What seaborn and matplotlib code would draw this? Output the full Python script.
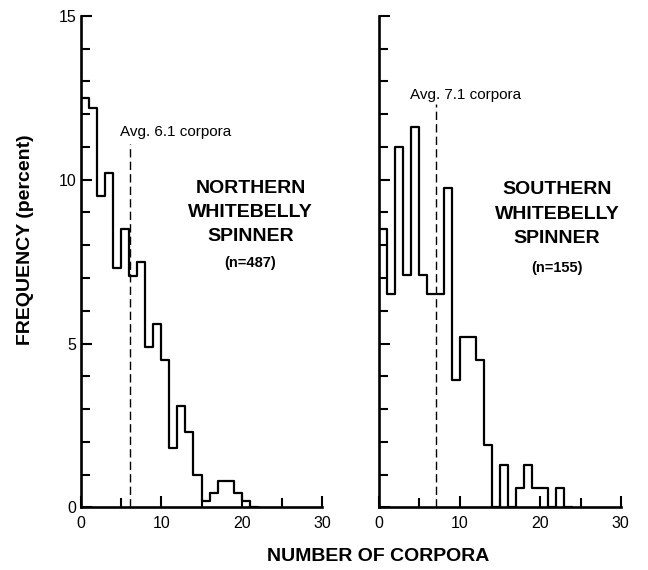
import numpy as np
import pandas as pd
import matplotlib
matplotlib.use("Agg")
import matplotlib.pyplot as plt
from matplotlib.ticker import MultipleLocator
import seaborn as sns

# Percent of animals per number-of-corpora bin (bins are [k, k+1))
north_corpora = list(range(0, 21))
north_pct = [12.5, 12.2, 9.5, 10.2, 7.3, 8.5, 7.05, 7.5, 4.9, 5.6, 4.5,
             1.8, 3.1, 2.3, 1.0, 0.2, 0.45, 0.8, 0.8, 0.45, 0.2]

south_corpora = list(range(0, 23))
south_pct = [8.5, 6.5, 11.0, 7.1, 11.6, 7.1, 6.5, 6.5, 9.75, 3.9, 5.2, 5.2,
             4.5, 1.9, 0.0, 1.3, 0.0, 0.6, 1.3, 0.6, 0.6, 0.0, 0.6]

populations = ["NORTHERN\nWHITEBELLY\nSPINNER", "SOUTHERN\nWHITEBELLY\nSPINNER"]
sample_sizes = ["(n=487)", "(n=155)"]
averages = [6.1, 7.1]
avg_line_tops = [11.1, 12.3]

sns.set_style("ticks", {"axes.edgecolor": "black", "text.color": "black",
                        "xtick.color": "black", "ytick.color": "black"})
plt.rcParams["font.family"] = ["Liberation Sans", "DejaVu Sans"]

fig = plt.figure(figsize=(6.48, 5.7), dpi=100)
ax_n = fig.add_axes([0.125, 0.110, 0.372, 0.862])
ax_s = fig.add_axes([0.585, 0.110, 0.373, 0.862])

panels = [
    (ax_n, north_corpora, north_pct, (11.8, 11.45), (21.1, 9.0), 7.45),
    (ax_s, south_corpora, south_pct, (10.7, 12.6), (22.1, 8.95), 7.3),
]

for i, (ax, xs, pct, avg_txt, pop_txt, n_y) in enumerate(panels):
    df = pd.DataFrame({"corpora": xs, "percent": pct})
    # one extra empty bin so the outline drops back to the baseline
    edges = list(range(0, len(xs) + 2))
    sns.histplot(data=df, x="corpora", weights="percent", bins=edges,
                 common_bins=False, element="step", fill=False,
                 color="black", linewidth=1.6, ax=ax)

    ax.vlines(averages[i], 0, avg_line_tops[i], colors="black",
              linestyles=(0, (6, 3)), linewidth=1.0)
    ax.text(avg_txt[0], avg_txt[1], f"Avg. {averages[i]} corpora",
            ha="center", va="center", fontsize=11, color="black")
    ax.text(pop_txt[0], pop_txt[1], populations[i], ha="center", va="center",
            fontsize=14, fontweight="bold", linespacing=1.55, color="black")
    ax.text(pop_txt[0], n_y, sample_sizes[i], ha="center", va="center",
            fontsize=10.5, fontweight="bold", color="black")

    ax.set_xlim(0, 30)
    ax.set_ylim(0, 15)
    ax.xaxis.set_major_locator(MultipleLocator(10))
    ax.xaxis.set_minor_locator(MultipleLocator(5))
    ax.yaxis.set_major_locator(MultipleLocator(5))
    ax.yaxis.set_minor_locator(MultipleLocator(1))
    ax.tick_params(which="both", direction="in", width=1.5, colors="black",
                   labelsize=11.5)
    ax.tick_params(which="major", length=8)
    ax.tick_params(which="minor", length=6.5)
    ax.tick_params(axis="x", pad=6)
    for side in ["left", "bottom"]:
        ax.spines[side].set_linewidth(1.9)
        ax.spines[side].set_color("black")
    sns.despine(ax=ax)
    ax.set_xlabel("")
    ax.set_ylabel("")

ax_s.tick_params(axis="y", labelleft=False)

fig.text(0.039, 0.579, "FREQUENCY (percent)", rotation=90, ha="center",
         va="center", fontsize=14, fontweight="bold", color="black")
fig.text(0.583, 0.024, "NUMBER OF CORPORA", ha="center", va="center",
         fontsize=14, fontweight="bold", color="black")

fig.savefig("out.png", dpi=100)
